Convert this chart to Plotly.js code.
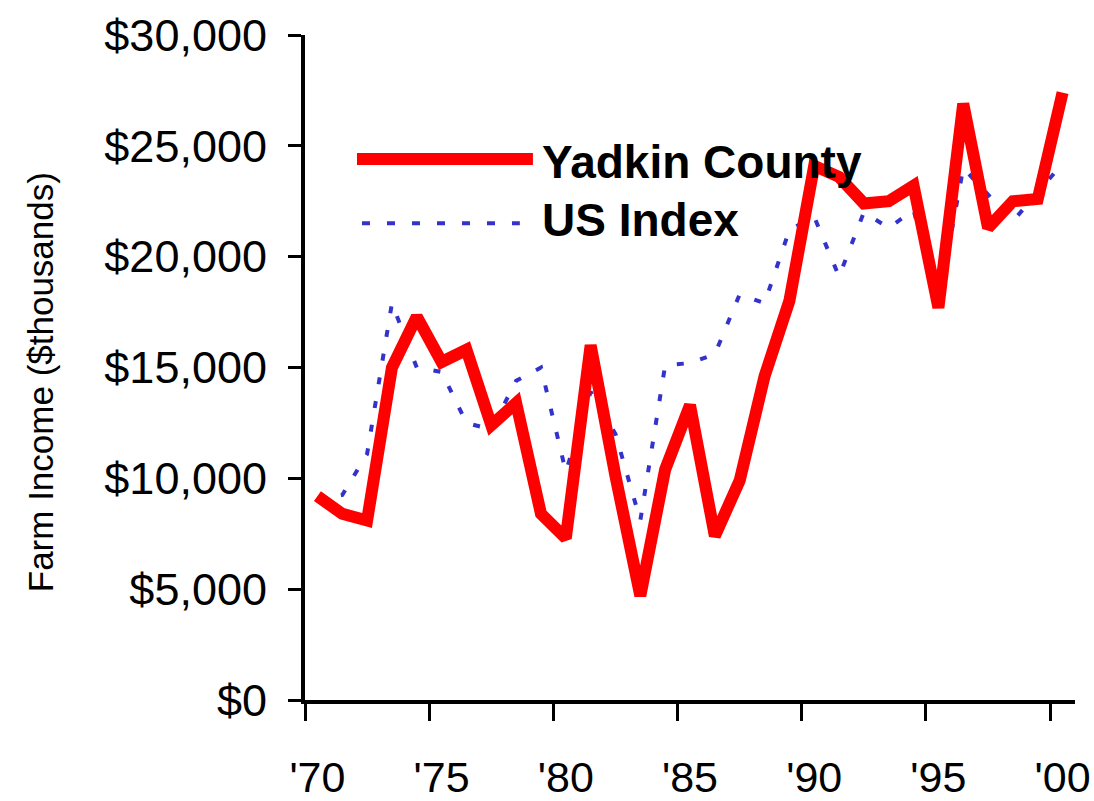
<!DOCTYPE html>
<html>
<head>
<meta charset="utf-8">
<script src="https://cdn.plot.ly/plotly-3.0.1.min.js"></script>
<style>html,body{margin:0;padding:0;background:#fff;}#chart{width:1094px;height:801px;}</style>
</head>
<body>
<div id="chart"></div>
<script>
var years = [1970,1971,1972,1973,1974,1975,1976,1977,1978,1979,1980,1981,1982,1983,1984,1985,1986,1987,1988,1989,1990,1991,1992,1993,1994,1995,1996,1997,1998,1999,2000];
var yadkinCounty = [9200,8400,8100,15000,17300,15250,15800,12400,13400,8400,7300,16000,10100,4700,10400,13300,7400,9900,14600,18000,24100,23600,22400,22500,23200,17700,26900,21300,22500,22600,27400];
var usIndex = [9000,9250,11100,17900,15000,14800,12500,12200,14400,15000,10300,13900,12000,8100,15100,15200,15600,18300,17900,21200,21800,19100,22000,21300,22100,17900,24000,22800,21600,22900,24200];
var seriesNames = ["Yadkin County", "US Index"];
var xLabelYears = [1970,1975,1980,1985,1990,1995,2000];
var xTickText = ["'70","'75","'80","'85","'90","'95","'00"];
var yTickVals = [0,5000,10000,15000,20000,25000,30000];
var yTickText = ["$0","$5,000","$10,000","$15,000","$20,000","$25,000","$30,000"];
var yTitle = "Farm Income ($thousands)";

var FONT = "'Liberation Sans', Arial, sans-serif";

// tick marks sit on category boundaries, labels on category centres
var xBoundaryTicks = xLabelYears.map(function (y) { return y - 0.5; });
var xRange = [years[0] - 0.5, years[years.length - 1] + 0.5];

var traces = [
  {x: years, y: usIndex, name: seriesNames[1], type: 'scatter', mode: 'lines',
   xaxis: 'x', yaxis: 'y',
   line: {color: '#3333CC', width: 4, dash: '7px,17px'}},
  {x: years, y: yadkinCounty, name: seriesNames[0], type: 'scatter', mode: 'lines',
   xaxis: 'x2', yaxis: 'y',
   line: {color: '#FF0000', width: 12}}
];

var layout = {
  width: 1094, height: 801,
  margin: {l: 305, r: 19, t: 35, b: 101},
  paper_bgcolor: '#ffffff', plot_bgcolor: 'rgba(0,0,0,0)',
  showlegend: false,
  font: {family: FONT, color: '#000'},
  xaxis: {
    range: xRange, tickmode: 'array', tickvals: xBoundaryTicks, showticklabels: false,
    showgrid: false, zeroline: false,
    showline: true, linecolor: '#000', linewidth: 4,
    ticks: 'outside', ticklen: 17, tickwidth: 3, tickcolor: '#000'
  },
  xaxis2: {
    overlaying: 'x', anchor: 'y', side: 'bottom',
    range: xRange, tickmode: 'array', tickvals: xLabelYears, ticktext: xTickText,
    showgrid: false, zeroline: false, showline: false,
    ticks: 'outside', ticklen: 17, tickcolor: 'rgba(0,0,0,0)',
    ticklabelstandoff: 22,
    tickfont: {family: FONT, size: 43, color: '#000'}
  },
  yaxis: {
    range: [0, 30000], tickmode: 'array', tickvals: yTickVals, ticktext: yTickText,
    showgrid: false, zeroline: false,
    showline: true, linecolor: '#000', linewidth: 4,
    ticks: 'outside', ticklen: 13, tickwidth: 3, tickcolor: '#000',
    ticklabelstandoff: 12,
    tickfont: {family: FONT, size: 45, color: '#000'}
  },
  shapes: [
    {type: 'line', xref: 'paper', yref: 'paper', x0: 0.0675, x1: 0.296, y0: 0.8135, y1: 0.8135,
     line: {color: '#FF0000', width: 12}},
    {type: 'line', xref: 'paper', yref: 'paper', x0: 0.074, x1: 0.279, y0: 0.717, y1: 0.717,
     line: {color: '#3333CC', width: 4, dash: '8px,17px'}}
  ],
  annotations: [
    {xref: 'paper', yref: 'paper', x: 0.305, y: 0.809, xanchor: 'left', yanchor: 'middle', showarrow: false,
     text: '<b>' + seriesNames[0] + '</b>', font: {family: FONT, size: 46, color: '#000'}},
    {xref: 'paper', yref: 'paper', x: 0.305, y: 0.722, xanchor: 'left', yanchor: 'middle', showarrow: false,
     text: '<b>' + seriesNames[1] + '</b>', font: {family: FONT, size: 46, color: '#000'}},
    {xref: 'paper', yref: 'paper', x: -0.344, y: 0.478, xanchor: 'center', yanchor: 'middle', showarrow: false,
     textangle: -90, text: yTitle, font: {family: FONT, size: 35, color: '#000'}}
  ]
};

Plotly.newPlot('chart', traces, layout, {displayModeBar: false, staticPlot: true});
</script>
</body>
</html>
